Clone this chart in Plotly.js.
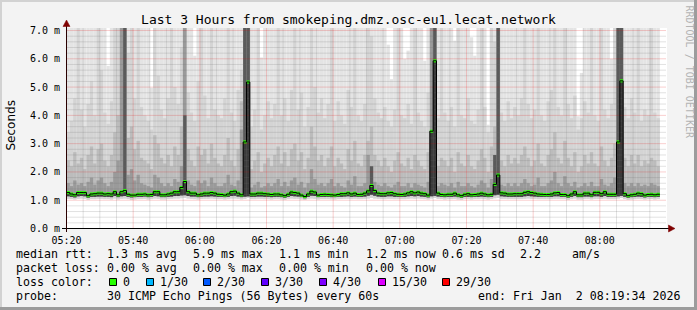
<!DOCTYPE html>
<html><head><meta charset="utf-8">
<script src="https://cdn.plot.ly/plotly-3.0.1.min.js"></script>
<style>html,body{margin:0;padding:0;background:#f3f3f3;}#chart{width:697px;height:310px;}</style>
</head><body><div id="chart"></div>
<script>
// ---------- data (ms), one value per minute starting 05:20 ----------
const startUTC = Date.UTC(2026, 0, 2, 5, 20, 0);
const median = [1.27,1.22,1.19,1.27,1.27,1.27,1.16,1.22,1.23,1.25,
1.25,1.22,1.23,1.22,1.30,1.19,1.30,1.34,1.21,1.18,
1.18,1.21,1.21,1.22,1.19,1.20,1.30,1.30,1.19,1.19,
1.22,1.25,1.30,1.30,1.45,1.66,1.30,1.25,1.25,1.19,
1.22,1.25,1.25,1.27,1.25,1.21,1.20,1.18,1.22,1.30,
1.32,1.25,1.19,3.06,5.18,1.22,1.22,1.25,1.25,1.23,
1.22,1.20,1.22,1.22,1.19,1.16,1.21,1.29,1.27,1.25,
1.18,1.13,1.22,1.32,1.29,1.18,1.20,1.21,1.20,1.19,
1.18,1.20,1.23,1.23,1.26,1.22,1.25,1.20,1.21,1.25,
1.33,1.52,1.34,1.25,1.23,1.23,1.26,1.27,1.23,1.21,
1.20,1.22,1.26,1.30,1.26,1.29,1.25,1.23,1.18,3.44,
5.93,1.25,1.20,1.19,1.21,1.21,1.25,1.19,1.16,1.21,
1.23,1.19,1.20,1.22,1.25,1.22,1.19,1.21,1.56,1.89,
1.26,1.25,1.22,1.22,1.23,1.23,1.23,1.28,1.30,1.27,
1.25,1.22,1.21,1.20,1.20,1.22,1.26,1.27,1.20,1.20,
1.16,1.22,1.30,1.19,1.19,1.25,1.25,1.19,1.28,1.28,
1.23,1.30,1.21,1.21,1.21,3.06,5.22,1.23,1.16,1.19,
1.21,1.25,1.23,1.18,1.20,1.21,1.19,1.21];
const minRtt = [1.05,1.04,1.03,1.05,1.06,1.05,1.02,1.04,1.04,1.05,
1.05,1.04,1.04,1.03,1.06,1.03,1.05,1.06,1.04,1.02,
1.03,1.04,1.04,1.05,1.03,1.04,1.06,1.05,1.03,1.03,
1.04,1.05,1.06,1.06,1.07,1.08,1.06,1.05,1.04,1.03,
1.04,1.05,1.05,1.06,1.05,1.04,1.04,1.03,1.04,1.06,
1.06,1.05,1.03,1.05,1.08,1.04,1.04,1.05,1.05,1.04,
1.04,1.03,1.04,1.04,1.03,1.02,1.04,1.06,1.05,1.05,
1.03,1.01,1.04,1.06,1.05,1.03,1.04,1.04,1.04,1.03,
1.03,1.04,1.04,1.05,1.05,1.04,1.05,1.04,1.04,1.05,
1.06,1.08,1.06,1.05,1.04,1.04,1.05,1.05,1.04,1.04,
1.04,1.04,1.05,1.06,1.05,1.06,1.05,1.04,1.03,1.06,
1.08,1.05,1.04,1.03,1.04,1.04,1.05,1.03,1.02,1.04,
1.04,1.03,1.04,1.04,1.05,1.04,1.03,1.04,1.07,1.08,
1.05,1.05,1.04,1.04,1.04,1.04,1.04,1.05,1.06,1.05,
1.05,1.04,1.04,1.04,1.04,1.04,1.05,1.05,1.04,1.04,
1.02,1.04,1.06,1.03,1.03,1.05,1.05,1.03,1.05,1.05,
1.04,1.06,1.04,1.04,1.04,1.06,1.08,1.04,1.02,1.03,
1.04,1.05,1.04,1.03,1.04,1.04,1.03,1.04];
const p10 = [1.14,1.12,1.10,1.14,1.15,1.14,1.09,1.12,1.12,1.13,
1.13,1.12,1.12,1.11,1.15,1.11,1.14,1.15,1.12,1.10,
1.11,1.12,1.12,1.13,1.11,1.12,1.15,1.14,1.11,1.11,
1.12,1.13,1.15,1.15,1.17,1.18,1.15,1.13,1.13,1.11,
1.12,1.13,1.13,1.14,1.13,1.12,1.12,1.11,1.12,1.15,
1.16,1.13,1.11,1.13,1.14,1.12,1.12,1.13,1.13,1.12,
1.12,1.11,1.12,1.12,1.11,1.09,1.12,1.15,1.14,1.13,
1.11,1.07,1.12,1.16,1.15,1.11,1.12,1.12,1.12,1.11,
1.11,1.12,1.12,1.13,1.14,1.12,1.13,1.12,1.12,1.13,
1.16,1.20,1.16,1.13,1.12,1.12,1.14,1.14,1.12,1.12,
1.12,1.12,1.14,1.15,1.14,1.15,1.13,1.12,1.10,1.14,
1.16,1.13,1.12,1.11,1.12,1.12,1.13,1.11,1.09,1.12,
1.12,1.11,1.12,1.12,1.13,1.12,1.11,1.12,1.18,1.20,
1.14,1.13,1.12,1.12,1.12,1.12,1.12,1.14,1.15,1.14,
1.13,1.12,1.12,1.12,1.12,1.12,1.14,1.14,1.12,1.12,
1.09,1.12,1.15,1.11,1.11,1.13,1.13,1.11,1.14,1.14,
1.12,1.15,1.12,1.12,1.12,1.14,1.16,1.12,1.09,1.11,
1.12,1.13,1.12,1.10,1.12,1.12,1.11,1.12];
const p60 = [1.6,1.5,1.7,1.55,1.6,1.5,1.65,1.8,1.55,1.7,
1.8,1.6,1.5,1.65,2.0,2.4,7.3,7.3,1.9,2.1,
1.7,1.9,1.6,1.55,1.5,1.45,1.9,1.8,1.6,1.5,
1.6,1.5,1.75,1.65,2.2,7.3,1.7,1.55,1.5,1.7,
1.6,1.7,1.5,1.8,1.6,1.5,1.5,1.6,1.9,1.55,
1.5,1.7,3.5,7.3,7.3,1.45,1.55,1.65,1.45,1.5,
1.6,1.5,1.6,1.75,1.5,1.65,1.5,1.7,1.8,1.55,
1.65,1.45,1.6,2.1,1.75,1.55,1.6,1.5,1.6,1.75,
1.5,1.6,1.5,1.45,1.7,1.55,1.85,1.5,1.5,1.6,
2.6,2.2,1.65,1.55,1.5,1.6,1.5,1.45,1.55,1.65,
1.5,1.5,1.6,1.45,1.6,1.55,1.5,1.45,1.65,7.3,
7.3,1.5,1.6,1.55,1.5,1.6,1.45,1.65,1.5,1.5,
1.6,1.5,1.45,1.55,1.7,1.6,1.45,1.75,2.6,7.3,
1.55,1.5,1.6,1.5,1.6,1.5,1.6,1.75,1.6,1.5,
1.55,1.8,1.5,1.5,1.6,1.7,2.0,1.6,1.5,1.85,
1.6,1.5,1.65,1.45,1.5,1.6,1.5,1.65,1.5,1.5,
1.75,1.55,1.5,1.6,1.8,7.3,7.3,1.6,1.5,1.6,
1.5,1.6,1.5,1.55,1.5,1.6,1.55,1.5];
const p75 = [2.4,2.2,2.7,2.3,2.5,2.1,2.6,2.9,2.3,2.8,
3.0,2.4,2.2,2.6,3.4,4.0,7.3,7.3,3.2,3.6,
2.8,3.1,2.5,2.4,2.3,2.1,3.3,3.0,2.5,2.3,
2.6,2.2,2.9,2.6,3.6,7.3,2.8,2.4,2.2,2.9,
2.6,2.8,2.3,3.0,2.5,2.3,2.2,2.6,3.2,2.4,
2.2,2.8,4.5,7.3,7.3,2.1,2.4,2.7,2.0,2.3,
2.5,2.2,2.6,2.9,2.3,2.7,2.2,2.8,3.0,2.4,
2.7,2.1,2.5,3.6,2.9,2.4,2.6,2.2,2.5,2.9,
2.2,2.5,2.3,2.1,2.8,2.4,3.1,2.3,2.2,2.6,
3.1,3.6,2.6,2.4,2.2,2.5,2.2,2.0,2.4,2.7,
2.3,2.2,2.5,2.1,2.6,2.4,2.2,2.1,2.7,7.3,
7.3,2.2,2.5,2.4,2.2,2.5,2.0,2.7,2.3,2.2,
2.6,2.2,2.1,2.4,2.8,2.5,2.0,2.9,3.6,7.3,
2.4,2.2,2.6,2.3,2.5,2.3,2.6,2.9,2.5,2.2,
2.4,3.0,2.3,2.2,2.6,2.8,3.4,2.5,2.3,3.1,
2.5,2.2,2.7,2.0,2.2,2.6,2.3,2.7,2.3,2.2,
2.9,2.4,2.2,2.5,3.0,7.3,7.3,2.5,2.2,2.6,
2.3,2.6,2.2,2.4,2.3,2.5,2.4,2.2];
const p90 = [3.4,3.8,4.6,7.3,4.2,3.6,4.4,5.2,4.0,7.3,
5.6,4.1,3.7,4.5,7.3,7.3,7.3,7.3,6.2,7.3,
4.6,7.3,4.3,4.0,3.8,3.5,7.3,5.4,4.2,3.9,
4.6,7.3,5.0,4.4,6.4,7.3,4.8,4.1,3.8,5.2,
7.3,4.7,3.9,7.3,4.2,4.0,3.9,4.6,7.3,4.1,
3.8,4.9,5.6,7.3,7.3,3.6,4.2,7.3,3.5,4.0,
4.5,3.9,4.4,7.3,4.0,4.6,3.8,4.9,7.3,4.2,
4.8,3.6,4.3,7.3,5.0,4.1,4.6,3.9,4.4,7.3,
3.8,4.5,4.0,3.7,4.9,4.3,7.3,4.0,3.8,4.4,
7.3,6.8,4.6,4.1,3.9,4.3,3.8,3.6,4.2,7.3,
4.0,3.9,4.4,3.7,7.3,4.1,3.8,3.6,4.8,7.3,
7.3,3.9,7.3,4.1,3.8,4.3,3.6,7.3,4.0,3.9,
4.6,3.8,3.7,4.2,7.3,4.3,3.4,7.3,6.6,7.3,
4.1,3.8,4.5,3.9,4.3,4.0,4.6,7.3,4.4,3.9,
4.2,7.3,4.0,3.8,4.5,4.9,7.3,4.3,4.0,7.3,
4.4,3.9,4.7,3.5,3.9,4.5,4.1,7.3,4.0,3.8,
7.3,4.2,3.9,4.4,7.3,7.3,7.3,4.3,3.9,4.6,
4.1,7.3,3.8,4.2,4.0,7.3,4.1,3.9];
const maxRtt = [7.3,7.3,7.3,7.3,7.3,7.3,7.3,7.3,7.3,7.3,
7.3,7.3,5.75,7.3,7.3,7.3,7.3,7.3,7.3,7.3,
7.3,7.3,7.3,7.3,7.3,4.98,7.3,7.3,7.3,7.3,
7.3,7.3,7.3,7.3,7.3,7.3,7.3,7.3,6.11,7.3,
7.3,7.3,7.3,7.3,7.3,7.3,7.3,7.3,7.3,7.3,
7.3,7.3,7.3,7.3,7.3,7.3,7.3,7.3,6.05,7.3,
7.3,7.3,7.3,7.3,7.3,7.3,7.3,7.3,7.3,7.3,
7.3,7.3,7.3,7.3,7.3,7.3,7.3,7.3,7.3,7.3,
7.3,7.3,7.3,7.3,7.3,7.3,7.3,7.3,7.3,7.3,
7.3,7.3,7.3,7.3,7.3,7.3,6.5,5.28,7.3,7.3,
7.3,6.0,6.29,7.3,7.3,7.3,7.3,5.93,7.3,7.3,
7.3,7.3,7.3,7.3,7.3,7.3,6.64,7.3,7.3,7.3,
7.3,6.76,6.11,7.3,7.3,7.3,3.67,7.3,7.3,7.3,
7.3,7.3,7.3,7.3,7.3,7.3,7.3,7.3,7.3,7.3,
7.3,7.3,7.3,7.3,7.3,7.3,7.3,7.3,7.3,7.3,
7.3,7.3,7.3,3.97,5.5,7.3,7.3,7.3,7.3,7.3,
7.3,7.3,7.3,6.0,7.3,7.3,7.3,7.3,7.3,7.3,
7.3,7.3,7.3,7.3,7.3,7.3,7.3,7.3];
const darkTop = [0,0,0,0,0,0,0,0,0,0,
0,0,0,0,0,0,0,7.3,0,0,
0,0,0,0,0,0,0,0,0,0,
0,0,0,0,0,4.0,0,0,0,0,
0,0,0,0,0,0,0,0,0,0,
0,0,0,7.3,7.3,0,0,0,0,0,
0,0,0,0,0,0,0,0,0,0,
0,0,0,0,0,0,0,0,0,0,
0,0,0,0,0,0,0,0,0,0,
0,2.2,0,0,0,0,0,0,0,0,
0,0,0,0,0,0,0,0,0,0,
7.3,0,0,0,0,0,0,0,0,0,
0,0,0,0,0,0,0,0,2.6,7.3,
0,0,0,0,0,0,0,0,0,0,
0,0,0,0,0,0,0,0,0,0,
0,0,0,0,0,0,0,0,0,0,
0,0,0,0,0,7.3,7.3,0,0,0,
0,0,0,0,0,0,0,0];

const xTickLabels = ['05:20','05:40','06:00','06:20','06:40','07:00','07:20','07:40','08:00'];
const yTickValues = [0,1,2,3,4,5,6,7];
const yTickLabels = ['0.0 m','1.0 m','2.0 m','3.0 m','4.0 m','5.0 m','6.0 m','7.0 m'];

const statMedian = ['1.3 ms avg','5.9 ms max','1.1 ms min','1.2 ms now','0.6 ms sd','2.2','am/s'];
const statLoss = ['0.00 % avg','0.00 % max','0.00 % min','0.00 % now'];
const lossLabels = ['0','1/30','2/30','3/30','4/30','15/30','29/30'];
const lossColors = ['#26ff00','#00b8ff','#0059ff','#5e00ff','#7e00ff','#dd00ff','#ff0000'];
const probeText = '30 ICMP Echo Pings (56 Bytes) every 60s';
const endText = 'end: Fri Jan\u00a0 2 08:19:34 2026';

// ---------- helpers ----------
function tm(min){ return new Date(startUTC + Math.round(min*60000)).toISOString().slice(0,19).replace('T',' '); }
const N = median.length;
const centers = median.map((_, i) => tm(i + 0.5));
const L = 66, T = 28, PW = 601, PH = 201;
const X = p => (p - L) / PW;
const Y = p => (T + PH - p) / PH;

function band(bottom, top, color) {
  return { type:'bar', x:centers, base:bottom,
    y: top.map((v, i) => (v == null || v <= bottom[i]) ? null : v - bottom[i]),
    width:60000, marker:{color:color, line:{width:0}}, hoverinfo:'skip', showlegend:false };
}
const traces = [];
traces.push(band(minRtt, maxRtt, '#e4e4e4'));
traces.push(band(minRtt, p90, '#d4d4d4'));
traces.push(band(p10, p75, '#bcbcbc'));
traces.push(band(p10, p60, '#9a9a9a'));
traces.push(band(p10, darkTop.map(v => v > 0 ? v : null), '#5a5a5a'));
traces.push(band(p10, median, '#3a3a3a'));

// grid lines (drawn over the smoke, like rrdtool)
const yTop = 199.5 / 28.14, yBot = -0.5 / 28.14;
function gridH(vals, color) {
  const xs = [], ys = [];
  vals.forEach(v => { xs.push(tm(0), tm(180), null); ys.push(v, v, null); });
  return { type:'scatter', mode:'lines', x:xs, y:ys, line:{color:color, width:1, dash:'1px,1px'}, hoverinfo:'skip', showlegend:false };
}
function gridV(mins, color) {
  const xs = [], ys = [];
  mins.forEach(m => { xs.push(tm(m), tm(m), null); ys.push(0, yTop, null); });
  return { type:'scatter', mode:'lines', x:xs, y:ys, line:{color:color, width:1, dash:'1px,1px'}, hoverinfo:'skip', showlegend:false };
}
const minorH = [], majorH = [], minorV = [], majorV = [];
for (let k = 1; k <= 35; k++) { if (k % 5) minorH.push(k / 5); else majorH.push(k / 5); }
for (let k = 1; k < 36; k++) { if (k % 4) minorV.push(5 * k); else majorV.push(5 * k); }
traces.push(gridH(minorH, 'rgba(110,110,110,0.4)'));
traces.push(gridV(minorV, 'rgba(110,110,110,0.4)'));
traces.push(gridH(majorH, 'rgba(225,0,0,0.38)'));
traces.push(gridV(majorV, 'rgba(225,0,0,0.38)'));

// median connector (black step) and green median blocks
const stepX = [], stepY = [];
for (let i = 0; i < N; i++) { stepX.push(tm(i)); stepY.push(median[i]); }
stepX.push(tm(N)); stepY.push(median[N - 1]);
traces.push({ type:'scatter', mode:'lines', x:stepX, y:stepY, line:{color:'#000', width:1, shape:'hv'}, hoverinfo:'skip', showlegend:false });
traces.push({ type:'bar', x:centers, base:median.map(v => v - 0.055), y:median.map(() => 0.11), width:60000,
  marker:{color:lossColors[0], line:{width:0}}, hoverinfo:'skip', showlegend:false });

// ---------- decorations ----------
const mono = 'DejaVu Sans Mono';
const shapes = [
  {type:'rect', xref:'paper', yref:'paper', x0:X(0), x1:X(697), y0:Y(0), y1:Y(2), fillcolor:'#d2d2d2', line:{width:0}, layer:'above'},
  {type:'rect', xref:'paper', yref:'paper', x0:X(0), x1:X(2), y0:Y(0), y1:Y(310), fillcolor:'#d2d2d2', line:{width:0}, layer:'above'},
  {type:'rect', xref:'paper', yref:'paper', x0:X(0), x1:X(697), y0:Y(307), y1:Y(310), fillcolor:'#9c9c9c', line:{width:0}, layer:'above'},
  {type:'rect', xref:'paper', yref:'paper', x0:X(694), x1:X(697), y0:Y(0), y1:Y(310), fillcolor:'#9c9c9c', line:{width:0}, layer:'above'},
  // axes
  {type:'line', xref:'paper', yref:'paper', x0:X(62), x1:X(669), y0:Y(228.5), y1:Y(228.5), line:{color:'#000', width:1}, layer:'above'},
  {type:'line', xref:'paper', yref:'paper', x0:X(66.5), x1:X(66.5), y0:Y(232), y1:Y(25), line:{color:'#2a0000', width:1}, layer:'above'},
  {type:'path', xref:'paper', yref:'paper', path:`M${X(66.5)},${Y(20)} L${X(63)},${Y(26.5)} L${X(70)},${Y(26.5)} Z`, fillcolor:'#7f0000', line:{color:'#7f0000', width:0.5}, layer:'above'},
  {type:'path', xref:'paper', yref:'paper', path:`M${X(675)},${Y(228.5)} L${X(668.5)},${Y(225)} L${X(668.5)},${Y(232)} Z`, fillcolor:'#7f0000', line:{color:'#7f0000', width:0.5}, layer:'above'}
];

const annotations = [];
function txt(x, y, text, extra) {
  annotations.push(Object.assign({ xref:'paper', yref:'paper', x:X(x), y:Y(y), text:text, showarrow:false,
    xanchor:'left', yanchor:'middle', borderpad:0, borderwidth:0,
    font:{family:mono, size:11.6, color:'#000'} }, extra || {}));
}
const ly = [253.5, 267.5, 281.5, 295.5];
txt(16, ly[0], 'median rtt:');
[107, 193, 279, 366, 442, 520, 572].forEach((x, k) => txt(x, ly[0], statMedian[k]));
txt(16, ly[1], 'packet loss:');
[107, 193, 279, 366].forEach((x, k) => txt(x, ly[1], statLoss[k]));
txt(16, ly[2], 'loss color:');
[109, 146, 203, 261, 319, 378, 442].forEach((x, k) => {
  shapes.push({type:'rect', xref:'paper', yref:'paper', x0:X(x + 0.5), x1:X(x + 7.5), y0:Y(285.5), y1:Y(278.5),
    fillcolor:lossColors[k], line:{color:'#000', width:1}, layer:'above'});
  txt(x + 14, ly[2], lossLabels[k]);
});
txt(16, ly[3], 'probe:');
txt(107, ly[3], probeText);
txt(478, ly[3], endText);
annotations.push({ xref:'paper', yref:'paper', x:X(10.5), y:Y(126), text:'Seconds', textangle:-90, showarrow:false,
  xanchor:'center', yanchor:'middle', font:{family:'DejaVu Sans', size:12, color:'#000'} });
annotations.push({ xref:'paper', yref:'paper', x:X(689.5), y:Y(72), text:'RRDTOOL / TOBI OETIKER', textangle:90, showarrow:false,
  xanchor:'center', yanchor:'middle', font:{family:mono, size:10, color:'#b4b4b4'} });

const layout = {
  width:697, height:310,
  margin:{l:L, r:697 - L - PW, t:T, b:310 - T - PH, pad:0},
  paper_bgcolor:'#f3f3f3', plot_bgcolor:'#ffffff',
  barmode:'overlay', showlegend:false,
  font:{family:mono, size:10, color:'#000'},
  title:{text:'Last 3 Hours from smokeping.dmz.osc-eu1.lecat.network', font:{family:mono, size:13, color:'#000'},
    x:0.5, xref:'container', xanchor:'center', y:1 - 19/310, yref:'container', yanchor:'middle'},
  xaxis:{type:'date', range:[tm(-0.15), tm(180.15)], tickmode:'array',
    tickvals:xTickLabels.map((_, k) => tm(20 * k)), ticktext:xTickLabels,
    showgrid:false, zeroline:false, showline:false, ticks:'outside', ticklen:2, tickcolor:'rgba(0,0,0,0)',
    tickfont:{family:mono, size:10, color:'#000'}, fixedrange:true},
  yaxis:{range:[yBot, yTop], tickmode:'array', tickvals:yTickValues, ticktext:yTickLabels,
    showgrid:false, zeroline:false, showline:false, ticks:'outside', ticklen:3, tickcolor:'rgba(0,0,0,0)',
    tickfont:{family:mono, size:10, color:'#000'}, fixedrange:true},
  shapes:shapes, annotations:annotations
};
Plotly.newPlot('chart', traces, layout, {displayModeBar:false, staticPlot:true});
</script></body></html>
